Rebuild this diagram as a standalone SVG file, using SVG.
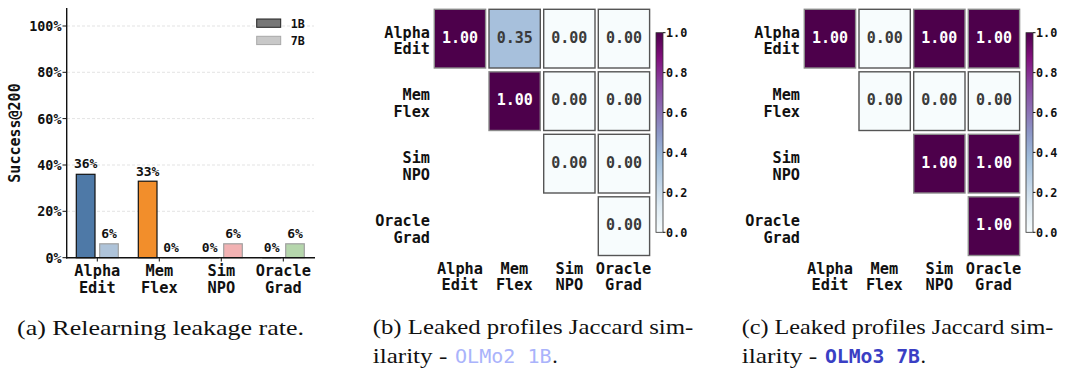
<svg xmlns="http://www.w3.org/2000/svg" width="1065" height="368" viewBox="0 0 1065 368">
<defs>
<linearGradient id="bupu" x1="0" y1="1" x2="0" y2="0">
<stop offset="0" stop-color="#f7fcfd"/>
<stop offset="0.125" stop-color="#e0ecf4"/>
<stop offset="0.25" stop-color="#bfd3e6"/>
<stop offset="0.375" stop-color="#9ebcda"/>
<stop offset="0.5" stop-color="#8c96c6"/>
<stop offset="0.625" stop-color="#8c6bb1"/>
<stop offset="0.75" stop-color="#88419d"/>
<stop offset="0.875" stop-color="#810f7c"/>
<stop offset="1" stop-color="#4d004b"/>
</linearGradient>
<style>
.m{font-family:"DejaVu Sans Mono",monospace;font-weight:bold;fill:#111}
.tick{font-size:13.4px;text-anchor:end}
.val{font-size:13px;text-anchor:middle}
.xl{font-size:15.3px;text-anchor:middle}
.rl{font-size:15.2px;text-anchor:end}
.cb{font-size:11.8px}
.ct{font-size:15px;text-anchor:middle}
.dk{fill:#ffffff}
.lt{fill:#3a3a3a}
.grid{stroke:#dcdcdc;stroke-width:0.8;stroke-dasharray:3 2}
.spine{stroke:#111;stroke-width:1.4;fill:none}
.tk{stroke:#111;stroke-width:1}
.b1{stroke:#111;stroke-width:1.2}
.b7{stroke:#a0a0a0;stroke-width:1.2}
.c1{fill:#4d004b;stroke:#8a8a8a;stroke-width:1.4}
.c0{fill:#f7fcfd;stroke:#555;stroke-width:1.4}
.cap{font-family:"Liberation Serif",serif;font-size:22px;fill:#111}
</style>
</defs>
<rect width="1065" height="368" fill="#ffffff"/>

<!-- Panel (a) -->
<g id="panel-a">
<g id="a-grid">
<line class="grid" x1="67" y1="26" x2="314" y2="26"/>
<line class="grid" x1="67" y1="72.3" x2="314" y2="72.3"/>
<line class="grid" x1="67" y1="118.6" x2="314" y2="118.6"/>
<line class="grid" x1="67" y1="165" x2="314" y2="165"/>
<line class="grid" x1="67" y1="211.3" x2="314" y2="211.3"/>
</g>
<g id="a-yticks">
<line class="tk" x1="62.5" y1="26" x2="66.7" y2="26"/>
<line class="tk" x1="62.5" y1="72.3" x2="66.7" y2="72.3"/>
<line class="tk" x1="62.5" y1="118.6" x2="66.7" y2="118.6"/>
<line class="tk" x1="62.5" y1="165" x2="66.7" y2="165"/>
<line class="tk" x1="62.5" y1="211.3" x2="66.7" y2="211.3"/>
<line class="tk" x1="62.5" y1="257.7" x2="66.7" y2="257.7"/>
<text class="m tick" x="61.5" y="30.9">100%</text>
<text class="m tick" x="61.5" y="77.2">80%</text>
<text class="m tick" x="61.5" y="123.5">60%</text>
<text class="m tick" x="61.5" y="169.9">40%</text>
<text class="m tick" x="61.5" y="216.2">20%</text>
<text class="m tick" x="61.5" y="262.6">0%</text>
</g>
<text class="m" font-size="15px" text-anchor="middle" transform="translate(19.5,133) rotate(-90)">Success@200</text>
<g id="a-bars">
<rect class="b1" x="76.3" y="174.3" width="18.7" height="83.4" fill="#4e79a7"/>
<rect class="b7" x="99.7" y="243.8" width="18.6" height="13.9" fill="#aec3d9"/>
<rect class="b1" x="138.3" y="181.2" width="18.7" height="76.5" fill="#f28e2b"/>
<line class="b7" x1="161.7" y1="257.7" x2="180.3" y2="257.7"/>
<line class="b1" x1="200.3" y1="257.7" x2="219" y2="257.7"/>
<rect class="b7" x="223.7" y="243.8" width="18.6" height="13.9" fill="#f2b2b3"/>
<line class="b1" x1="262.3" y1="257.7" x2="281" y2="257.7"/>
<rect class="b7" x="285.7" y="243.8" width="18.6" height="13.9" fill="#b5d6ac"/>
</g>
<g id="a-values">
<text class="m val" x="85.7" y="168.3">36%</text>
<text class="m val" x="109" y="237.8">6%</text>
<text class="m val" x="147.7" y="175.5">33%</text>
<text class="m val" x="171" y="251.7">0%</text>
<text class="m val" x="209.7" y="251.7">0%</text>
<text class="m val" x="233" y="237.8">6%</text>
<text class="m val" x="271.7" y="251.7">0%</text>
<text class="m val" x="295" y="237.8">6%</text>
</g>
<g id="a-axes">
<line class="spine" x1="66.7" y1="8" x2="66.7" y2="258.4"/>
<line class="spine" x1="66" y1="257.7" x2="315" y2="257.7"/>
<line class="tk" x1="97.3" y1="257.7" x2="97.3" y2="261.5"/>
<line class="tk" x1="159.3" y1="257.7" x2="159.3" y2="261.5"/>
<line class="tk" x1="221.3" y1="257.7" x2="221.3" y2="261.5"/>
<line class="tk" x1="283.3" y1="257.7" x2="283.3" y2="261.5"/>
</g>
<g id="a-xlabels">
<text class="m xl" x="97.3" y="276.2">Alpha</text>
<text class="m xl" x="97.3" y="292.8">Edit</text>
<text class="m xl" x="159.3" y="276.2">Mem</text>
<text class="m xl" x="159.3" y="292.8">Flex</text>
<text class="m xl" x="221.3" y="276.2">Sim</text>
<text class="m xl" x="221.3" y="292.8">NPO</text>
<text class="m xl" x="283.3" y="276.2">Oracle</text>
<text class="m xl" x="283.3" y="292.8">Grad</text>
</g>
<g id="a-legend">
<rect x="256.7" y="19" width="24" height="8.3" fill="#777777" stroke="#222" stroke-width="1"/>
<rect x="256.7" y="36.3" width="24" height="8.3" fill="#c8c8c8" stroke="#a8a8a8" stroke-width="1"/>
<text class="m" font-size="11.7px" x="290.7" y="27.5">1B</text>
<text class="m" font-size="11.7px" x="290.7" y="44.7">7B</text>
</g>
</g>

<!-- Panel (b) -->
<g id="panel-b">
<g id="b-cells">
<rect class="c1" x="434.3" y="9.3" width="51.3" height="58.7"/>
<rect x="489" y="9.3" width="51.3" height="58.7" fill="#a7c0dc" stroke="#555" stroke-width="1.4"/>
<rect class="c0" x="543.7" y="9.3" width="51.3" height="58.7"/>
<rect class="c0" x="598.3" y="9.3" width="51.3" height="58.7"/>
<rect class="c1" x="489" y="71.8" width="51.3" height="58.7"/>
<rect class="c0" x="543.7" y="71.8" width="51.3" height="58.7"/>
<rect class="c0" x="598.3" y="71.8" width="51.3" height="58.7"/>
<rect class="c0" x="543.7" y="134.3" width="51.3" height="58.7"/>
<rect class="c0" x="598.3" y="134.3" width="51.3" height="58.7"/>
<rect class="c0" x="598.3" y="196.8" width="51.3" height="58.7"/>
</g>
<g id="b-values">
<text class="m ct dk" x="460" y="42.7">1.00</text>
<text class="m ct lt" x="514.7" y="42.7">0.35</text>
<text class="m ct lt" x="569.3" y="42.7">0.00</text>
<text class="m ct lt" x="624" y="42.7">0.00</text>
<text class="m ct dk" x="514.7" y="105.2">1.00</text>
<text class="m ct lt" x="569.3" y="105.2">0.00</text>
<text class="m ct lt" x="624" y="105.2">0.00</text>
<text class="m ct lt" x="569.3" y="167.7">0.00</text>
<text class="m ct lt" x="624" y="167.7">0.00</text>
<text class="m ct lt" x="624" y="230.2">0.00</text>
</g>
<g id="b-rowlabels">
<text class="m rl" x="430" y="37.8">Alpha</text>
<text class="m rl" x="430" y="54.4">Edit</text>
<text class="m rl" x="430" y="100.4">Mem</text>
<text class="m rl" x="430" y="117">Flex</text>
<text class="m rl" x="430" y="162.8">Sim</text>
<text class="m rl" x="430" y="179.5">NPO</text>
<text class="m rl" x="430" y="226.1">Oracle</text>
<text class="m rl" x="430" y="242.8">Grad</text>
</g>
<g id="b-collabels">
<text class="m xl" x="460" y="273.8">Alpha</text>
<text class="m xl" x="460" y="290.4">Edit</text>
<text class="m xl" x="514.3" y="273.8">Mem</text>
<text class="m xl" x="514.3" y="290.4">Flex</text>
<text class="m xl" x="569.3" y="273.8">Sim</text>
<text class="m xl" x="569.3" y="290.4">NPO</text>
<text class="m xl" x="623.5" y="273.8">Oracle</text>
<text class="m xl" x="623.5" y="290.4">Grad</text>
</g>
<g id="b-colorbar">
<rect x="656" y="32.7" width="7" height="199.6" fill="url(#bupu)" stroke="#333" stroke-width="0.8"/>
<line class="tk" x1="663" y1="32.7" x2="665.5" y2="32.7"/>
<line class="tk" x1="663" y1="72.6" x2="665.5" y2="72.6"/>
<line class="tk" x1="663" y1="112.5" x2="665.5" y2="112.5"/>
<line class="tk" x1="663" y1="152.4" x2="665.5" y2="152.4"/>
<line class="tk" x1="663" y1="192.4" x2="665.5" y2="192.4"/>
<line class="tk" x1="663" y1="232.3" x2="665.5" y2="232.3"/>
<text class="m cb" x="666" y="37.1">1.0</text>
<text class="m cb" x="666" y="77">0.8</text>
<text class="m cb" x="666" y="116.9">0.6</text>
<text class="m cb" x="666" y="156.8">0.4</text>
<text class="m cb" x="666" y="196.8">0.2</text>
<text class="m cb" x="666" y="236.7">0.0</text>
</g>
</g>

<!-- Panel (c) -->
<g id="panel-c">
<g id="c-cells">
<rect class="c1" x="804.3" y="9.3" width="51.3" height="58.7"/>
<rect class="c0" x="859" y="9.3" width="51.3" height="58.7"/>
<rect class="c1" x="913.7" y="9.3" width="51.3" height="58.7"/>
<rect class="c1" x="968.3" y="9.3" width="51.3" height="58.7"/>
<rect class="c0" x="859" y="71.8" width="51.3" height="58.7"/>
<rect class="c0" x="913.7" y="71.8" width="51.3" height="58.7"/>
<rect class="c0" x="968.3" y="71.8" width="51.3" height="58.7"/>
<rect class="c1" x="913.7" y="134.3" width="51.3" height="58.7"/>
<rect class="c1" x="968.3" y="134.3" width="51.3" height="58.7"/>
<rect class="c1" x="968.3" y="196.8" width="51.3" height="58.7"/>
</g>
<g id="c-values">
<text class="m ct dk" x="830" y="42.7">1.00</text>
<text class="m ct lt" x="884.7" y="42.7">0.00</text>
<text class="m ct dk" x="939.3" y="42.7">1.00</text>
<text class="m ct dk" x="994" y="42.7">1.00</text>
<text class="m ct lt" x="884.7" y="105.2">0.00</text>
<text class="m ct lt" x="939.3" y="105.2">0.00</text>
<text class="m ct lt" x="994" y="105.2">0.00</text>
<text class="m ct dk" x="939.3" y="167.7">1.00</text>
<text class="m ct dk" x="994" y="167.7">1.00</text>
<text class="m ct dk" x="994" y="230.2">1.00</text>
</g>
<g id="c-rowlabels">
<text class="m rl" x="800" y="37.8">Alpha</text>
<text class="m rl" x="800" y="54.4">Edit</text>
<text class="m rl" x="800" y="100.4">Mem</text>
<text class="m rl" x="800" y="117">Flex</text>
<text class="m rl" x="800" y="162.8">Sim</text>
<text class="m rl" x="800" y="179.5">NPO</text>
<text class="m rl" x="800" y="226.1">Oracle</text>
<text class="m rl" x="800" y="242.8">Grad</text>
</g>
<g id="c-collabels">
<text class="m xl" x="830" y="273.8">Alpha</text>
<text class="m xl" x="830" y="290.4">Edit</text>
<text class="m xl" x="884.3" y="273.8">Mem</text>
<text class="m xl" x="884.3" y="290.4">Flex</text>
<text class="m xl" x="939.3" y="273.8">Sim</text>
<text class="m xl" x="939.3" y="290.4">NPO</text>
<text class="m xl" x="993.5" y="273.8">Oracle</text>
<text class="m xl" x="993.5" y="290.4">Grad</text>
</g>
<g id="c-colorbar">
<rect x="1026" y="32.7" width="7" height="199.6" fill="url(#bupu)" stroke="#333" stroke-width="0.8"/>
<line class="tk" x1="1033" y1="32.7" x2="1035.5" y2="32.7"/>
<line class="tk" x1="1033" y1="72.6" x2="1035.5" y2="72.6"/>
<line class="tk" x1="1033" y1="112.5" x2="1035.5" y2="112.5"/>
<line class="tk" x1="1033" y1="152.4" x2="1035.5" y2="152.4"/>
<line class="tk" x1="1033" y1="192.4" x2="1035.5" y2="192.4"/>
<line class="tk" x1="1033" y1="232.3" x2="1035.5" y2="232.3"/>
<text class="m cb" x="1036" y="37.1">1.0</text>
<text class="m cb" x="1036" y="77">0.8</text>
<text class="m cb" x="1036" y="116.9">0.6</text>
<text class="m cb" x="1036" y="156.8">0.4</text>
<text class="m cb" x="1036" y="196.8">0.2</text>
<text class="m cb" x="1036" y="236.7">0.0</text>
</g>
</g>

<g id="connectors"/>

<!-- Captions -->
<g id="captions">
<text class="cap" x="17" y="335" textLength="287" lengthAdjust="spacingAndGlyphs">(a) Relearning leakage rate.</text>
<text class="cap" x="372.7" y="334" textLength="320.6" lengthAdjust="spacingAndGlyphs">(b) Leaked profiles Jaccard sim-</text>
<text class="cap" x="372.7" y="363.3" textLength="74.6" lengthAdjust="spacingAndGlyphs">ilarity -</text>
<text x="455" y="363.3" font-family="DejaVu Sans Mono, monospace" font-size="19.8px" fill="#aab3fb" textLength="96.7" lengthAdjust="spacingAndGlyphs">OLMo2 1B</text>
<text class="cap" x="552.2" y="363.3">.</text>
<text class="cap" x="741.7" y="334" textLength="311.6" lengthAdjust="spacingAndGlyphs">(c) Leaked profiles Jaccard sim-</text>
<text class="cap" x="741.7" y="363.3" textLength="75.6" lengthAdjust="spacingAndGlyphs">ilarity -</text>
<text x="825" y="363.3" font-family="DejaVu Sans Mono, monospace" font-weight="bold" font-size="19.6px" fill="#3a3fc4" textLength="95" lengthAdjust="spacingAndGlyphs">OLMo3 7B</text>
<text class="cap" x="920.5" y="363.3">.</text>
</g>
</svg>
